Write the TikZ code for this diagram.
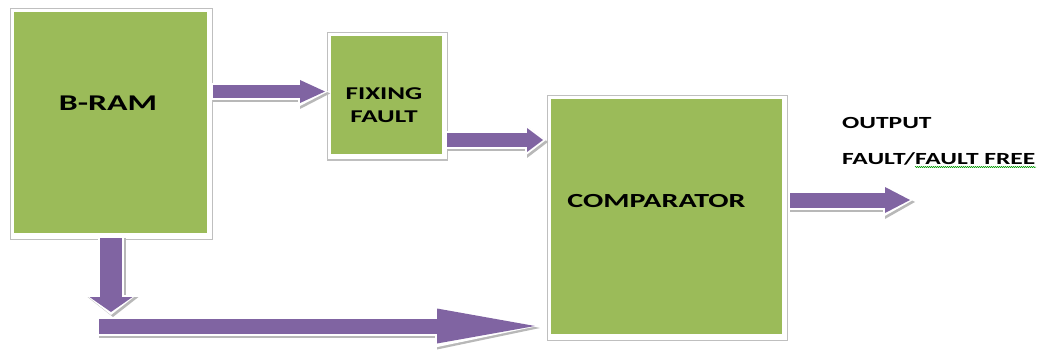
\documentclass[tikz,border=0pt]{standalone}
\usepackage{fontspec}
\newfontfamily\blockfont{Carlito}[FakeStretch=1.5]
\usetikzlibrary{positioning, arrows.meta, decorations.pathmorphing}
\definecolor{blockgreen}{HTML}{9BBB59}
\definecolor{arrowpurple}{HTML}{8064A2}
\begin{document}
\begin{tikzpicture}[x=1pt,y=-1pt,
    block/.style={rectangle,fill=blockgreen,draw=white,line width=3pt,inner sep=0pt,
        preaction={draw=black!25,double=white,double distance=5pt,line width=1pt,
            transform canvas={shift={(1pt,-1.5pt)}}}},
    blocktext/.style={node font=\blockfont\bfseries,text=black,inner sep=0pt,align=center},
    % #1 shaft, #2 tip length, #3 tip width, #4 shorten start, #5 shorten end
    blockarrow/.style n args={5}{draw=arrowpurple,line width=#1,shorten <=#4,shorten >=#5,
        -{Triangle[length=#2,width=#3,line width=0pt]},
        preaction={draw=black!28,line width=#1+4pt,shorten <=#4-2pt,shorten >=#5-3pt,
            -{Triangle[length=#2+5pt,width=#3+8pt,line width=0pt]},
            transform canvas={shift={(2pt,-2pt)}}},
        preaction={draw=white,line width=#1+4pt,shorten <=#4-2pt,shorten >=#5-3pt,
            -{Triangle[length=#2+5pt,width=#3+8pt,line width=0pt]}}},
    every label/.style={blocktext}]
    \useasboundingbox (0,0) rectangle (1044,350);
    % blocks
    \node[block,minimum width=196pt,minimum height=224pt,
        label={[font=\fontsize{22.5}{27}\selectfont,xshift=-2.5pt,yshift=19.5pt]center:B-RAM}] (bram) at (110.5,122.5) {};
    \node[block,minimum width=114pt,minimum height=121pt,
        label={[font=\fontsize{18}{23}\selectfont,xshift=-2.5pt,yshift=-10.5pt]center:{FIXING\\FAULT}}] (fixing) at (386.5,95) {};
    \node[block,minimum width=234pt,minimum height=238pt,
        label={[font=\fontsize{20}{24}\selectfont,xshift=-10pt,yshift=15.5pt]center:COMPARATOR}] (comp) at (666.5,216.5) {};
    % output text
    \node[blocktext,font=\fontsize{17}{20}\selectfont,anchor=base west] (outlabel) at (842,129) {OUTPUT};
    \node[blocktext,font=\fontsize{17}{20}\selectfont,anchor=base west] (outstate) at (842,164.5) {FAULT/FAULT FREE};
    \draw[green!60!black,line width=0.5pt,decorate,decoration={snake,amplitude=0.6pt,segment length=2pt}]
        (915,167) -- (1036,167);
    % connectors
    \coordinate (join) at (111,312);
    \coordinate (bus) at (99,326);
    \coordinate (outtip) at (910,200);
    \draw[blockarrow={13pt}{25pt}{23pt}{3pt}{3pt}]
        ([yshift=31pt]bram.east) -- ([yshift=3.5pt]fixing.west);
    \draw[blockarrow={14pt}{16pt}{24pt}{2pt}{5pt}]
        ([yshift=-45pt]fixing.east) -- ([yshift=76.5pt]comp.west);
    \draw[blockarrow={22pt}{15pt}{43pt}{2pt}{0pt}]
        ([xshift=0.5pt]bram.south) -- (join);
    \draw[blockarrow={15pt}{98pt}{35pt}{0pt}{13pt}]
        (bus) -- ([yshift=-109.5pt]comp.west);
    \draw[blockarrow={15pt}{25pt}{26pt}{5pt}{0pt}]
        ([yshift=16.5pt]comp.east) -- (outtip);
\end{tikzpicture}
\end{document}
